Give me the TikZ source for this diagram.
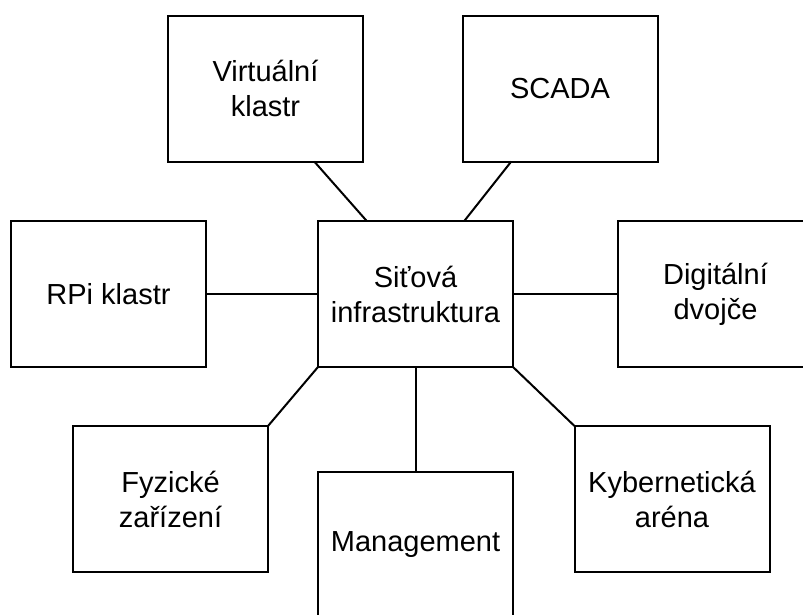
\documentclass[tikz,border=0pt]{standalone}
\usepackage{fontspec}
\setmainfont{Liberation Sans}
\usetikzlibrary{calc}
\begin{document}
\begin{tikzpicture}[x=1pt,y=-1pt,
  box/.style={draw=black, line width=2pt, rectangle, minimum width=195pt, minimum height=146pt,
    inner sep=0pt, outer sep=0pt, align=center, font=\fontsize{29}{35}\selectfont},
  link/.style={draw=black, line width=2pt}]
\useasboundingbox (0,0) rectangle (803,614);
\node[box] (V) at (265.5,88.5) {Virtuální\\klastr};
\node[box] (S) at (560,88.5) {SCADA};
\node[box] (R) at (108.5,294) {RPi klastr};
\node[box] (C) at (415.5,294) {Siťová\\infrastruktura};
\node[box] (D) at (715.5,294) {Digitální\\dvojče};
\node[box] (F) at (170.5,499) {Fyzické\\zařízení};
\node[box] (M) at (415.5,545) {Management};
\node[box] (K) at (672,499) {Kybernetická\\aréna};
\draw[link] ($(V.south west)!0.75!(V.south east)$) -- ($(C.north west)!0.25!(C.north east)$);
\draw[link] ($(S.south west)!0.25!(S.south east)$) -- ($(C.north west)!0.75!(C.north east)$);
\draw[link] (R.east) -- (C.west);
\draw[link] (C.east) -- (D.west);
\draw[link] (C.south west) -- (F.north east);
\draw[link] (C.south east) -- (K.north west);
\draw[link] (C.south) -- (M.north);
\end{tikzpicture}
\end{document}
